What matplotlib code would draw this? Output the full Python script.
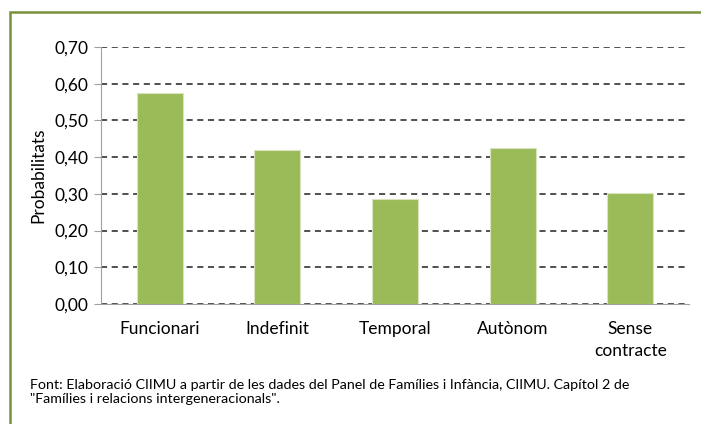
import matplotlib.pyplot as plt
from matplotlib.patches import Rectangle

categories = ['Funcionari', 'Indefinit', 'Temporal', 'Autònom', 'Sense\ncontracte']
values = [0.576, 0.420, 0.286, 0.424, 0.302]
yticks = [0.0, 0.1, 0.2, 0.3, 0.4, 0.5, 0.6, 0.7]

plt.rcParams['font.family'] = ['Lato', 'DejaVu Sans']

fig = plt.figure(figsize=(7.01, 4.24), dpi=100)
ax = fig.add_axes([0.144, 0.283, 0.839, 0.606])

# outer green frame (right and bottom edges fall outside the picture)
fig.patches.append(Rectangle((10 / 701, -0.05), 1.0, 1 - 12 / 424 + 0.05,
                             transform=fig.transFigure, fill=False,
                             edgecolor='#77933C', linewidth=1.8))

x = range(len(categories))
ax.bar(x, values, width=0.39, color='#9BBB59', edgecolor='#D7E4BD', linewidth=0.8, zorder=3)

ax.set_ylim(0, 0.7)
ax.set_xlim(-0.5, len(categories) - 0.5)
ax.set_yticks(yticks)
ax.set_yticklabels([f'{v:.2f}'.replace('.', ',') for v in yticks], fontsize=12.5)
ax.set_xticks(list(x))
ax.set_xticklabels(categories, fontsize=12.5, linespacing=1.45)
ax.tick_params(axis='x', length=0, pad=12)
ax.tick_params(axis='y', length=5, color='#A0A0A0', pad=4)
ax.yaxis.grid(True, linestyle=(0, (4, 3)), color='#202020', linewidth=1.1, zorder=0)
ax.set_axisbelow(True)

for s in ['top', 'right']:
    ax.spines[s].set_visible(False)
ax.spines['left'].set_color('#A0A0A0')
ax.spines['bottom'].set_color('#A0A0A0')

ax.set_ylabel('Probabilitats', fontsize=12.5, labelpad=6)

fig.text(30 / 701, 1 - 392 / 424,
         'Font: Elaboració CIIMU a partir de les dades del Panel de Famílies i Infància, CIIMU. Capítol 2 de\n'
         '"Famílies i relacions intergeneracionals".',
         fontsize=10.3, va='center', ha='left', linespacing=1.25)

fig.savefig('out.png', dpi=100)
